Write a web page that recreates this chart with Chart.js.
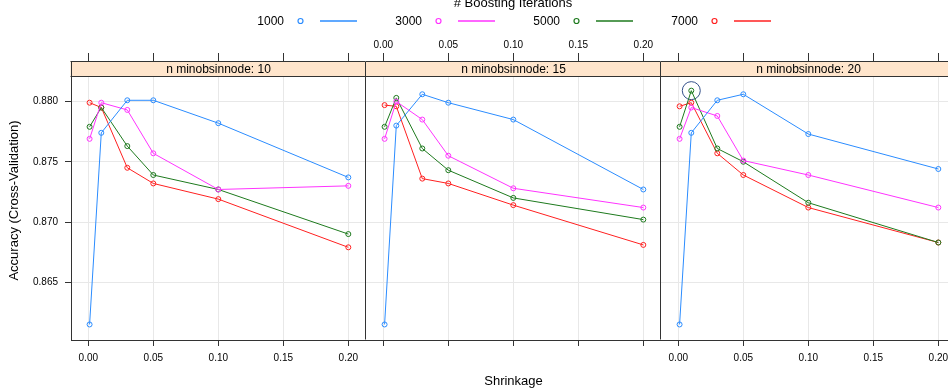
<!DOCTYPE html>
<html>
<head>
<meta charset="utf-8">
<script src="https://cdn.jsdelivr.net/npm/chart.js@4.4.1/dist/chart.umd.min.js"></script>
<style>
  html, body { margin: 0; padding: 0; width: 948px; height: 392px; overflow: hidden; background: #fff; }
  body { position: relative; font-family: "Liberation Sans", Arial, sans-serif; color: #000; }
  canvas { position: absolute; top: 0; z-index: 1; }
  #legend { position: absolute; left: 0; top: 0; width: 948px; height: 40px; z-index: 2; }
  .lg { position: absolute; font-size: 12px; line-height: 14px; white-space: nowrap; }
</style>
</head>
<body>
<div id="legend"></div>
<canvas id="p1" width="366" height="392" style="left:0px"></canvas>
<canvas id="p2" width="295" height="392" style="left:366px"></canvas>
<canvas id="p3" width="295" height="392" style="left:661px"></canvas>
<script>
// data
const shrinkage = [0.001, 0.01, 0.03, 0.05, 0.1, 0.2];
const iterations = ["1000", "3000", "5000", "7000"];
const minobsinnode = [10, 15, 20];
const shrinkTicks = [0, 0.05, 0.10, 0.15, 0.20];
const accTicks = [0.865, 0.870, 0.875, 0.880];

// rows follow iterations: 1000, 3000, 5000, 7000
const accNode10 = [
  [0.8615, 0.8774, 0.8801, 0.8801, 0.8782, 0.8737],
  [0.8769, 0.8799, 0.8793, 0.8757, 0.8727, 0.8730],
  [0.8779, 0.8795, 0.8763, 0.8739, 0.8727, 0.8690],
  [0.8799, 0.8795, 0.8745, 0.8732, 0.8719, 0.8679]
];
const accNode15 = [
  [0.8615, 0.8780, 0.8806, 0.8799, 0.8785, 0.8727],
  [0.8769, 0.8800, 0.8785, 0.8755, 0.8728, 0.8712],
  [0.8779, 0.8803, 0.8761, 0.8743, 0.8720, 0.8702],
  [0.8797, 0.8796, 0.8736, 0.8732, 0.8714, 0.8681]
];
const accNode20 = [
  [0.8615, 0.8774, 0.8801, 0.8806, 0.8773, 0.8744],
  [0.8769, 0.8795, 0.8788, 0.8751, 0.8739, 0.8712],
  [0.8779, 0.8809, 0.8761, 0.8750, 0.8716, 0.8683],
  [0.8796, 0.8799, 0.8757, 0.8739, 0.8712, 0.8683]
];

const colors = ["#2b8cff", "#ff33ff", "#1e7a1e", "#ff2020"];
const font = "'Liberation Sans', Arial, sans-serif";

// axis limits so the panel box matches the picture
const xMin = -0.0133, xMax = 0.2136;
const yMin = 0.86021, yMax = 0.88336;

// best tune over all panels gets the circle
const allPanels = [accNode10, accNode15, accNode20];
let best = { p: 0, s: 0, k: 0, v: -1 };
allPanels.forEach((rows, p) => rows.forEach((row, s) => row.forEach((v, k) => {
  if (v > best.v) best = { p, s, k, v };
})));

// legend, R style: label, symbol, line
const legend = document.getElementById("legend");
let html = '<div class="lg" style="left:413px;top:-4px;width:200px;text-align:center;font-size:13px">' +
  '# Boosting Iterations</div>';
let marks = "";
iterations.forEach((it, i) => {
  const off = i * 138;
  html += `<div class="lg" style="left:${244 + off}px;top:14px;width:40px;text-align:right">${it}</div>`;
  marks += `<circle cx="${300.5 + off}" cy="21" r="2.5" fill="none" stroke="${colors[i]}" stroke-width="1.2"/>`;
  marks += `<line x1="${320 + off}" y1="21" x2="${357 + off}" y2="21" stroke="${colors[i]}" stroke-width="1.6"/>`;
});
html += `<svg width="948" height="40" style="position:absolute;left:0;top:0">${marks}</svg>`;
legend.innerHTML = html;

// strip on top of each panel plus the panel box (left edge only on the first panel)
const stripPlugin = {
  id: "strip",
  beforeDatasetsDraw(chart, args, opts) {
    const { ctx, chartArea: a } = chart;
    const l = Math.round(a.left) + 0.5;
    const r = Math.round(a.right) - 0.5;
    const t = Math.round(a.top) + 0.5;
    const b = Math.round(a.bottom) - 0.5;
    ctx.save();
    ctx.fillStyle = "#ffe5cc";
    ctx.fillRect(l - 1, t, r - l + 1, 15);
    ctx.strokeStyle = "#333";
    ctx.lineWidth = 1;
    ctx.beginPath();
    ctx.moveTo(l - 1, t); ctx.lineTo(r, t);
    ctx.moveTo(l - 1, t + 15); ctx.lineTo(r, t + 15);
    ctx.moveTo(r, t); ctx.lineTo(r, b);
    if (opts.left) { ctx.moveTo(l, t); ctx.lineTo(l, b); }
    ctx.stroke();
    ctx.fillStyle = "#000";
    ctx.font = "12px " + font;
    ctx.textAlign = "center";
    ctx.textBaseline = "middle";
    ctx.fillText(opts.label, (a.left + a.right) / 2, t + 8);
    ctx.restore();
  }
};

function makePanel(id, p, rows) {
  const first = p === 0;
  const datasets = rows.map((row, s) => ({
    label: iterations[s],
    data: shrinkage.map((x, k) => ({ x: x, y: row[k] })),
    borderColor: colors[s],
    borderWidth: 1,
    pointStyle: "circle",
    pointRadius: 2.5,
    pointBorderWidth: 1,
    pointBorderColor: colors[s],
    pointBackgroundColor: "rgba(0,0,0,0)",
    tension: 0
  }));
  if (best.p === p) {
    datasets.push({
      label: "best",
      data: [{ x: shrinkage[best.k], y: best.v }],
      showLine: false,
      pointRadius: 9,
      pointBorderWidth: 1,
      pointBorderColor: "#34508a",
      pointBackgroundColor: "rgba(0,0,0,0)"
    });
  }

  new Chart(document.getElementById(id), {
    type: "line",
    data: { datasets: datasets },
    plugins: [stripPlugin],
    options: {
      responsive: false,
      animation: false,
      events: [],
      layout: { padding: 0, autoPadding: false },
      plugins: {
        legend: { display: false },
        tooltip: { enabled: false },
        strip: { label: "n minobsinnode: " + minobsinnode[p], left: first }
      },
      scales: {
        x: {
          type: "linear", position: "bottom", min: xMin, max: xMax,
          afterBuildTicks: s => { s.ticks = shrinkTicks.map(v => ({ value: v })); },
          afterFit: s => { s.height = 52; },
          ticks: {
            display: p !== 1, padding: 6, maxRotation: 0, color: "#000",
            font: { size: 10, family: font }, callback: v => v.toFixed(2)
          },
          grid: { color: "#e8e8e8", tickColor: "#333", tickLength: 6 },
          border: { color: "#333" },
          title: {
            display: p === 1, text: "Shrinkage", color: "#000",
            font: { size: 13, family: font }, padding: { top: 4, bottom: 3 }
          }
        },
        xt: {
          type: "linear", position: "top", min: xMin, max: xMax,
          afterBuildTicks: s => { s.ticks = shrinkTicks.map(v => ({ value: v })); },
          afterFit: s => { s.height = 61; },
          ticks: {
            display: p === 1, padding: 2, maxRotation: 0, color: "#000",
            font: { size: 10, family: font }, callback: v => v.toFixed(2)
          },
          grid: { drawOnChartArea: false, tickColor: "#333", tickLength: 8 },
          border: { display: false }
        },
        y: {
          type: "linear", position: "left", min: yMin, max: yMax,
          afterBuildTicks: s => { s.ticks = accTicks.map(v => ({ value: v })); },
          afterFit: s => { s.width = first ? 71 : 0; },
          ticks: {
            display: first, padding: 7, color: "#000",
            font: { size: 10, family: font }, callback: v => v.toFixed(3)
          },
          grid: { color: "#e8e8e8", tickColor: "#333", tickLength: 6, drawTicks: first },
          border: { display: first, color: "#333" },
          title: {
            display: first, text: "Accuracy (Cross-Validation)", color: "#000",
            font: { size: 13, family: font }, padding: { top: 7, bottom: 4 }
          }
        }
      }
    }
  });
}

makePanel("p1", 0, accNode10);
makePanel("p2", 1, accNode15);
makePanel("p3", 2, accNode20);
</script>
</body>
</html>
